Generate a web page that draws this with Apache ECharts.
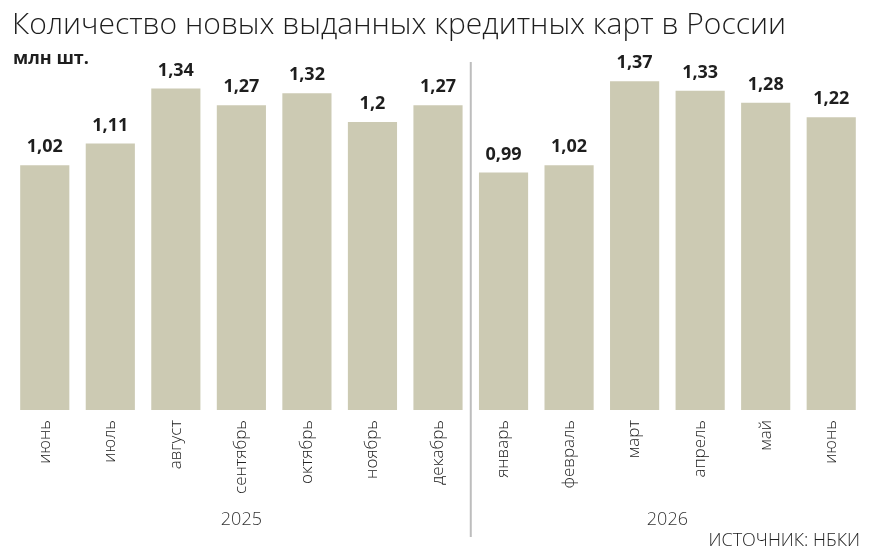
<!DOCTYPE html>
<html>
<head>
<meta charset="utf-8">
<script src="https://cdn.jsdelivr.net/npm/echarts@6/dist/echarts.min.js"></script>
<style>
  html, body { margin: 0; padding: 0; background: #fff; }
  #chart { width: 874px; height: 559px; }
</style>
</head>
<body>
<div id="chart"></div>
<script>
// data
var months = ['июнь', 'июль', 'август', 'сентябрь', 'октябрь', 'ноябрь', 'декабрь',
              'январь', 'февраль', 'март', 'апрель', 'май', 'июнь '];
var cards = [1.02, 1.11, 1.34, 1.27, 1.32, 1.2, 1.27, 0.99, 1.02, 1.37, 1.33, 1.28, 1.22];
var years = ['2025', '2026'];
var yearSplit = 7; // first index of 2026

var dom = document.getElementById('chart');
var myChart = echarts.init(dom, null, { renderer: 'canvas' });

var option = {
  animation: false,
  title: [{
    text: 'Количество новых выданных кредитных карт в России',
    left: 7,
    top: 5,
    textStyle: { fontFamily: 'Open Sans', fontWeight: 300, fontSize: 30, color: '#1e1e1e' }
  }, {
    text: 'млн шт.',
    left: 8,
    top: 45,
    textStyle: { fontFamily: 'Open Sans', fontWeight: 'bold', fontSize: 18, color: '#1e1e1e' }
  }, {
    text: 'ИСТОЧНИК: НБКИ',
    right: 9,
    top: 527,
    textStyle: { fontFamily: 'Open Sans', fontWeight: 300, fontSize: 18, color: '#1e1e1e' }
  }],
  grid: { left: 12, right: 10, top: 50, bottom: 149 },
  xAxis: {
    type: 'category',
    data: months,
    axisLine: { show: false },
    axisTick: { show: false },
    axisLabel: {
      rotate: 90,
      margin: 10,
      color: '#222',
      fontFamily: 'Open Sans',
      fontWeight: 300,
      fontSize: 17,
      formatter: function (v) { return v.trim(); }
    }
  },
  yAxis: {
    type: 'value',
    min: 0,
    max: 1.5,
    show: false,
    splitLine: { show: false }
  },
  series: [{
    type: 'bar',
    data: cards,
    barCategoryGap: '25%',
    itemStyle: { color: '#cccab3' },
    label: {
      show: true,
      position: 'top',
      distance: 9,
      color: '#1e1e1e',
      fontFamily: 'Open Sans',
      fontWeight: 'bold',
      fontSize: 18,
      formatter: function (p) { return String(p.value).replace('.', ','); }
    }
  }]
};

myChart.setOption(option);

// separator between years and year captions
var xSep = (myChart.convertToPixel({ xAxisIndex: 0 }, yearSplit - 1) +
            myChart.convertToPixel({ xAxisIndex: 0 }, yearSplit)) / 2;
var x2025 = myChart.convertToPixel({ xAxisIndex: 0 }, (yearSplit - 1) / 2);
var x2026 = (myChart.convertToPixel({ xAxisIndex: 0 }, yearSplit) +
             myChart.convertToPixel({ xAxisIndex: 0 }, months.length - 1)) / 2;

myChart.setOption({
  graphic: [{
    type: 'line',
    shape: { x1: xSep, y1: 62, x2: xSep, y2: 537 },
    style: { stroke: '#bdbdbd', lineWidth: 2 }
  }, {
    type: 'text',
    x: x2025, y: 511,
    style: { text: years[0], textAlign: 'center', fill: '#333', font: '300 18px "Open Sans"' }
  }, {
    type: 'text',
    x: x2026, y: 511,
    style: { text: years[1], textAlign: 'center', fill: '#333', font: '300 18px "Open Sans"' }
  }]
});

window.addEventListener('resize', myChart.resize);
</script>
</body>
</html>
